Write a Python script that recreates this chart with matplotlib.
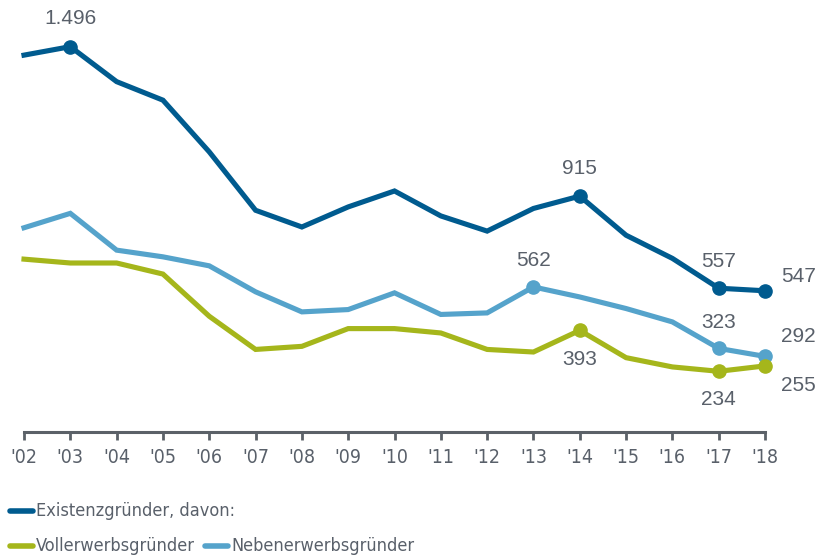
import matplotlib
matplotlib.use("Agg")
import matplotlib.pyplot as plt
from matplotlib.lines import Line2D

years = list(range(2002, 2019))
tick_labels = ["'02", "'03", "'04", "'05", "'06", "'07", "'08", "'09", "'10",
               "'11", "'12", "'13", "'14", "'15", "'16", "'17", "'18"]
existenz = [1463, 1496, 1360, 1288, 1087, 860, 795, 873, 935, 838, 779, 867, 915, 763, 673, 557, 547]
voll = [670, 655, 655, 612, 448, 319, 331, 400, 400, 383, 319, 309, 393, 287, 251, 234, 255]
neben = [792, 848, 705, 679, 644, 543, 465, 474, 539, 455, 461, 562, 523, 478, 426, 323, 292]

names = ["Existenzgründer, davon:", "Vollerwerbsgründer", "Nebenerwerbsgründer"]
c_ex, c_voll, c_neb = "#005b8f", "#a5b61b", "#55a3cb"
txt_col = "#59606a"

W, H = 823, 558
fig = plt.figure(figsize=(W / 100, H / 100), dpi=100)
ax = fig.add_axes([24 / W, 1 - 431.5 / H, (765 - 24) / W, (431.5 - 19.9) / H])
ax.set_xlim(2002, 2018)
ax.set_ylim(0, 1600)

lw = 3.7
ax.plot(years, neben, color=c_neb, lw=lw, solid_joinstyle="miter", clip_on=False, zorder=2)
ax.plot(years, voll, color=c_voll, lw=lw, solid_joinstyle="miter", clip_on=False, zorder=3)
ax.plot(years, existenz, color=c_ex, lw=lw, solid_joinstyle="miter", clip_on=False, zorder=4)

num_font = dict(fontsize=15, color=txt_col, family=["Liberation Sans", "DejaVu Sans"])

def mark(series, idx, color, label, dx, dy, ha="center", z=5):
    x = years[idx]
    y = series[idx]
    ax.plot([x], [y], "o", color=color, ms=9.5, clip_on=False, zorder=z)
    ax.annotate(label, (x, y), xytext=(dx, dy), textcoords="offset points",
                ha=ha, va="center", annotation_clip=False, **num_font)

mark(existenz, 1, c_ex, "1.496", 0, 20.5)
mark(existenz, 12, c_ex, "915", 0, 20)
mark(existenz, 15, c_ex, "557", 0, 19)
mark(existenz, 16, c_ex, "547", 24, 10)
mark(neben, 11, c_neb, "562", 0, 19)
mark(neben, 15, c_neb, "323", 0, 19)
mark(neben, 16, c_neb, "292", 24, 14)
mark(voll, 12, c_voll, "393", 0, -21)
mark(voll, 15, c_voll, "234", 0, -20)
mark(voll, 16, c_voll, "255", 24, -14)

for s in ["top", "right", "left"]:
    ax.spines[s].set_visible(False)
ax.spines["bottom"].set_color("#5b6168")
ax.spines["bottom"].set_linewidth(2.2)
ax.set_yticks([])
ax.set_xticks(years)
ax.set_xticklabels(tick_labels, family="DejaVu Sans", fontstretch="condensed",
                   fontsize=14, color=txt_col)
ax.tick_params(axis="x", direction="out", length=6, width=2, color="#5b6168", pad=6)

# legend (manual)
leg_font = dict(fontsize=13, color=txt_col, family="DejaVu Sans", fontstretch="condensed")
def leg_item(x0, y, color, text):
    fig.add_artist(Line2D([x0 / W, (x0 + 23) / W], [1 - y / H, 1 - y / H],
                          color=color, lw=4, solid_capstyle="round"))
    fig.text((x0 + 26) / W, 1 - y / H, text, ha="left", va="center", **leg_font)

leg_item(10, 511, c_ex, names[0])
leg_item(10, 546, c_voll, names[1])
leg_item(205, 546, c_neb, names[2])

fig.savefig("out.png", dpi=100)
